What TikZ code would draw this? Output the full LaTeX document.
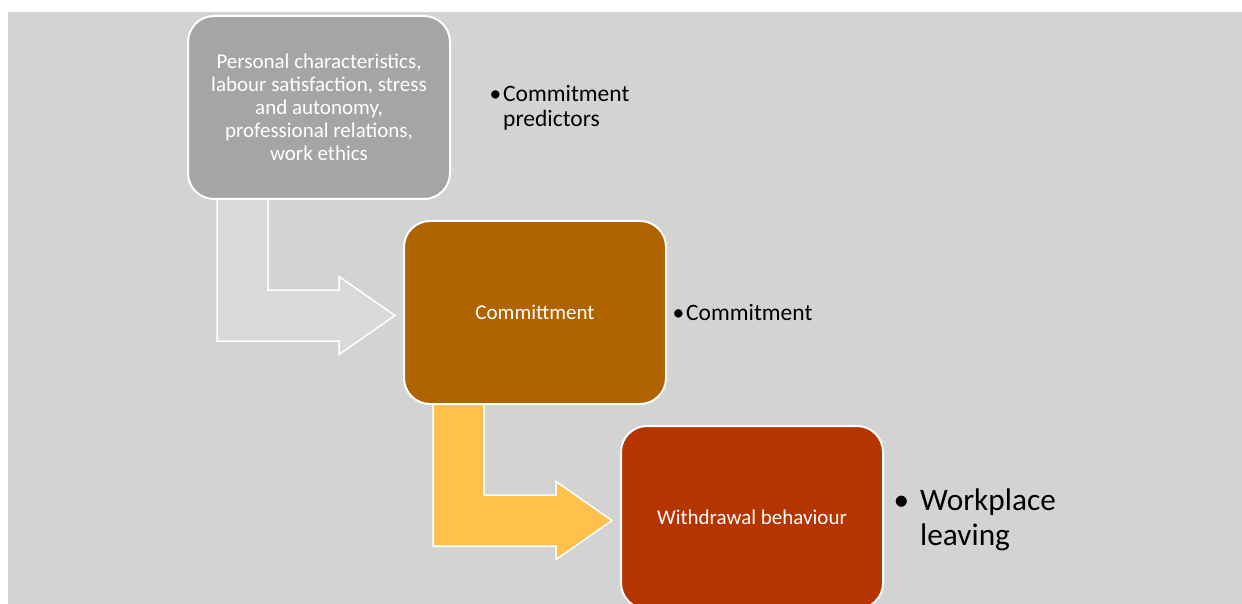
\documentclass[tikz,border=0pt]{standalone}
\usepackage{fontspec}
\setmainfont{Carlito}
\usetikzlibrary{calc,backgrounds}
\definecolor{panelgray}{HTML}{D3D3D3}
\definecolor{predgray}{HTML}{A5A5A5}
\definecolor{combrown}{HTML}{AF6400}
\definecolor{wdrust}{HTML}{B43500}
\definecolor{arrowgray}{HTML}{D9D9D9}
\definecolor{arrowgold}{HTML}{FFC04C}
\tikzset{
  stagebox/.style={draw=white, line width=2pt, rounded corners=26pt, minimum width=262pt, minimum height=183pt, text=white, align=center, font=\fontsize{21}{23}\selectfont, inner sep=4pt},
  bentarrow/.style={draw=white, line width=1.5pt, line join=miter},
  notetext/.style={font=\fontsize{23.5}{25}\selectfont, align=left, anchor=base west, inner sep=0pt},
}

\begin{document}
\begin{tikzpicture}[x=1pt, y=-1pt]
  \useasboundingbox (0,0) rectangle (1242,604);

  % Stages, top left to bottom right
  \node[stagebox, fill=predgray] (pred) at (319,107.5) {Personal characteristics,\\labour satisfaction, stress\\and autonomy,\\professional relations,\\work ethics};
  \node[stagebox, fill=combrown] (com) at (535,312.5) {Committment};
  \node[stagebox, fill=wdrust] (wd) at (752,517.5) {Withdrawal behaviour};

  % Side notes (base is the last line)
  \node[notetext] (predlbl) at (503,126.7) {\llap{•\hspace{2pt}}Commitment\\predictors};
  \node[notetext] (comlbl) at (686,320) {\llap{•\hspace{2pt}}Commitment};
  \node[notetext, font=\fontsize{31.3}{35}\selectfont] (wdlbl) at (920,545) {\llap{•\hspace{11pt}}Workplace\\leaving};

  % Panel and bent arrows behind the stages
  \begin{scope}[on background layer]
    \fill[panelgray] (8,12) rectangle (1242,604);
    \foreach \src/\dst/\col in {pred/com/arrowgray, com/wd/arrowgold} {
      \coordinate (a) at ($(\src.south west)+(30,-10)$);
      \coordinate (t) at ($(\dst.west)+(-8,3)$);
      \filldraw[bentarrow, fill=\col] (a) -- ++(51,0) |- ($(t)+(-56,-25.5)$) -- ++(0,-13.5) -- (t)
        -- ($(t)+(-56,39)$) -- ++(0,-13.5) -| (a) -- cycle;
    }
  \end{scope}
\end{tikzpicture}
\end{document}
